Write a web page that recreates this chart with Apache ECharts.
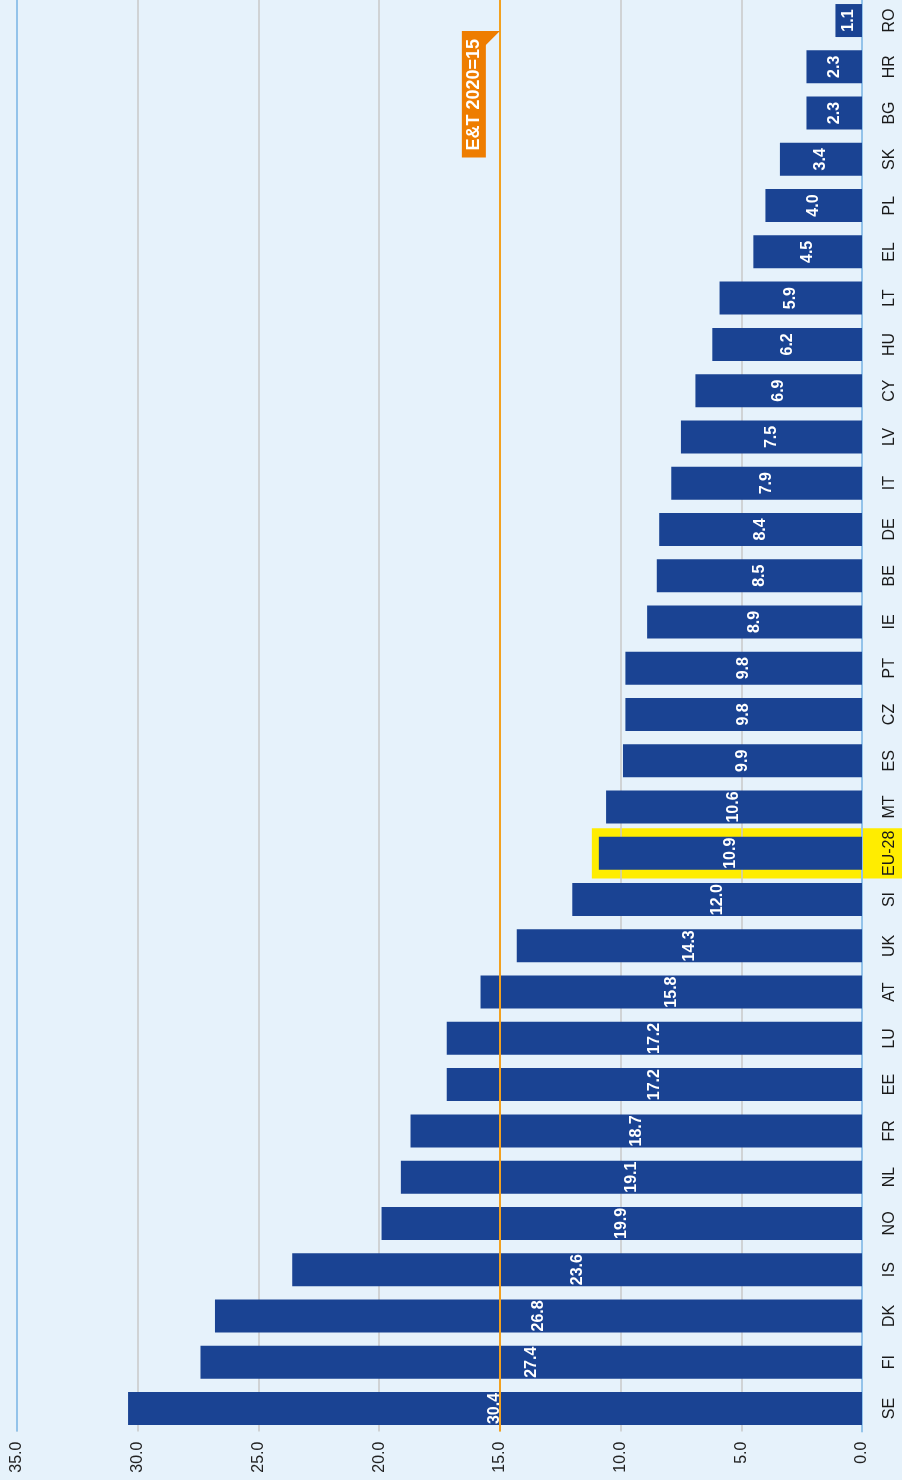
<!DOCTYPE html>
<html>
<head>
<meta charset="utf-8">
<title>Early leavers chart</title>
<script src="https://cdn.jsdelivr.net/npm/echarts@6/dist/echarts.min.js"></script>
<style>
  html, body { margin: 0; padding: 0; background: #e6f2fb; }
  #chart { width: 902px; height: 1480px; }
</style>
</head>
<body>
<div id="chart"></div>
<script>
// Countries listed from the bottom of the chart to the top
const categories = ['SE', 'FI', 'DK', 'IS', 'NO', 'NL', 'FR', 'EE', 'LU', 'AT', 'UK', 'SI', 'EU-28',
  'MT', 'ES', 'CZ', 'PT', 'IE', 'BE', 'DE', 'IT', 'LV', 'CY', 'HU', 'LT', 'EL', 'PL', 'SK', 'BG', 'HR', 'RO'];
const values = [30.4, 27.4, 26.8, 23.6, 19.9, 19.1, 18.7, 17.2, 17.2, 15.8, 14.3, 12.0, 10.9,
  10.6, 9.9, 9.8, 9.8, 8.9, 8.5, 8.4, 7.9, 7.5, 6.9, 6.2, 5.9, 4.5, 4.0, 3.4, 2.3, 2.3, 1.1];
const highlighted = 'EU-28';
const benchmark = 15;
const benchmarkLabel = 'E&T 2020=15';
const axisMin = 0, axisMax = 35, axisStep = 5;

const NARROW = '"Liberation Sans Narrow", "Arial Narrow", sans-serif';
const BAR = '#1a4393';
const YELLOW = '#ffed00';
const AXIS_BLUE = '#93c3ea';
const ORANGE_BOX = '#ee7d00';

// offset of the benchmark label from the top end of its line, and its gap from the line
const labelAlong = 33.6;
const labelGap = 14;

// only the highlighted country carries a value in the frame series
const highlightData = categories
  .map((c, i) => (c === highlighted ? [values[i], i] : null))
  .filter(d => d !== null);

const chart = echarts.init(document.getElementById('chart'), null, { renderer: 'canvas' });

// yellow frame: a band around the bar that runs on past the axis under its label
function renderFrame(params, api) {
  const v = api.value(0);
  const cat = api.value(1);
  const end = api.coord([v, cat]);
  const band = api.size([0, 1])[1];
  const pad = 7;
  const h = band + 4;
  return {
    type: 'rect',
    shape: {
      x: end[0] - pad,
      y: end[1] - h / 2,
      width: api.getWidth() - (end[0] - pad),
      height: h
    },
    style: { fill: YELLOW }
  };
}

chart.setOption({
  backgroundColor: '#e6f2fb',
  animation: false,
  grid: { left: 17, right: 40, top: -2.6, bottom: 48.4, containLabel: false, outerBoundsMode: 'none' },
  xAxis: {
    type: 'value',
    inverse: true,
    min: axisMin,
    max: axisMax,
    interval: axisStep,
    axisLine: { show: false },
    axisTick: { show: false },
    splitLine: { show: true, lineStyle: { color: '#c9c9c9', width: 1.5 } },
    axisLabel: {
      rotate: 90,
      margin: 10,
      fontFamily: NARROW,
      fontSize: 16,
      color: '#222',
      formatter: v => v.toFixed(1)
    }
  },
  yAxis: {
    type: 'category',
    position: 'right',
    data: categories,
    axisLine: { show: true, lineStyle: { color: AXIS_BLUE, width: 2 } },
    axisTick: { show: false },
    axisLabel: {
      rotate: 90,
      interval: 0,
      margin: 20,
      fontFamily: NARROW,
      fontSize: 16,
      color: '#1a1a1a'
    }
  },
  series: [
    {
      type: 'custom',
      renderItem: renderFrame,
      data: highlightData,
      encode: { x: 0, y: 1 },
      z: -1,
      clip: false,
      silent: true
    },
    {
      type: 'bar',
      data: values,
      barWidth: 33,
      itemStyle: { color: BAR },
      label: {
        show: true,
        position: 'inside',
        rotate: 90,
        align: 'center',
        verticalAlign: 'middle',
        fontFamily: NARROW,
        fontWeight: 'bold',
        fontSize: 16,
        color: '#ffffff',
        formatter: p => p.value.toFixed(1)
      },
      markLine: {
        silent: true,
        symbol: 'none',
        animation: false,
        data: [
          {
            xAxis: benchmark,
            lineStyle: { color: '#f2a11f', width: 2, type: 'solid' },
            label: {
              show: true,
              position: 'insideEndTop',
              distance: [labelAlong, labelGap],
              formatter: benchmarkLabel,
              color: '#ffffff',
              fontFamily: '"Liberation Sans", Arial, sans-serif',
              fontWeight: 'bold',
              fontSize: 18,
              backgroundColor: ORANGE_BOX,
              padding: [3, 8, 3, 7]
            }
          },
          {
            xAxis: axisMax,
            lineStyle: { color: AXIS_BLUE, width: 2, type: 'solid' },
            label: { show: false }
          }
        ]
      }
    }
  ]
});

// small pennant joining the benchmark label to its line
const lineX = chart.convertToPixel({ xAxisIndex: 0 }, benchmark);
const gridTop = chart.convertToPixel({ yAxisIndex: 0 }, categories[categories.length - 1]) -
  chart.getModel().getComponent('yAxis', 0).axis.getBandWidth() / 2;
const flagTop = gridTop + labelAlong;
chart.setOption({
  graphic: [{
    type: 'polygon',
    z: 10,
    silent: true,
    shape: { points: [[lineX - labelGap - 1, flagTop], [lineX, flagTop], [lineX - labelGap - 1, flagTop + labelGap + 1]] },
    style: { fill: ORANGE_BOX }
  }]
});
</script>
</body>
</html>
